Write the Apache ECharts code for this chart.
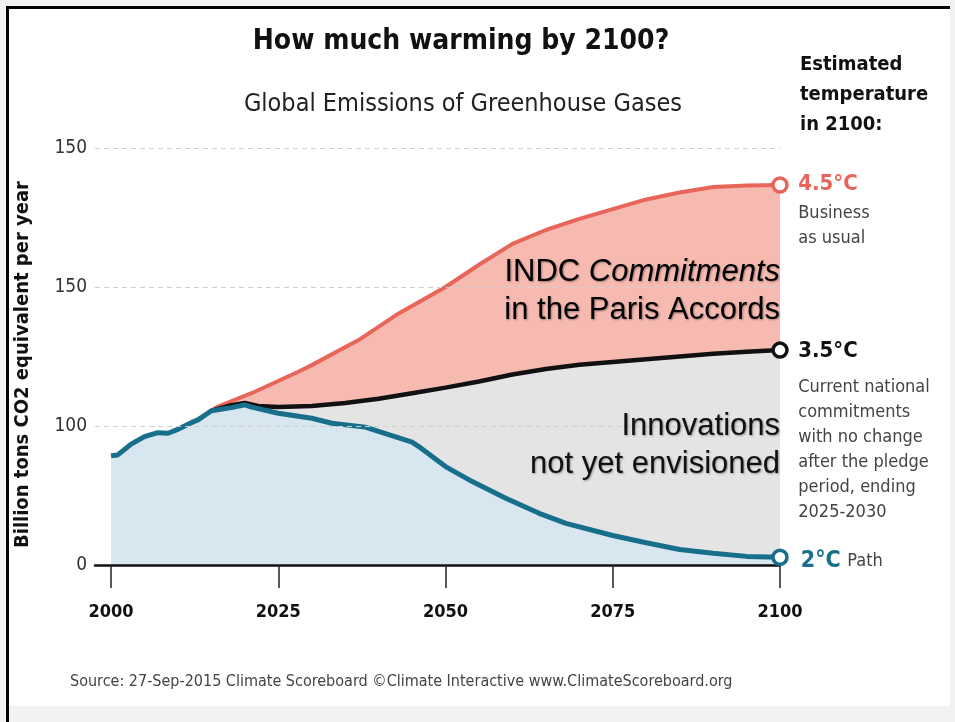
<!DOCTYPE html>
<html>
<head>
<meta charset="utf-8">
<title>How much warming by 2100?</title>
<script src="https://cdn.jsdelivr.net/npm/echarts@6/dist/echarts.min.js"></script>
<style>
  body { margin: 0; background: #f2f2f2; }
  #paper { position: absolute; left: 6px; top: 6px; width: 941px; height: 697px; background: #fff;
           border-top: 3px solid #000; border-left: 3px solid #000; }
  #edge { position: absolute; left: 6px; top: 6px; width: 3px; height: 716px; background: #000; }
  #canva { position: absolute; left: 0; top: 0; width: 955px; height: 722px; }
</style>
</head>
<body>
<div id="paper"></div>
<div id="edge"></div>
<div id="canva"></div>
<script>
// ========== Data read off the graphic ==========
// 2°C path (blue) - [year, Gt CO2e]
const bluePath = [
  [2000, 39.3], [2001, 39.6], [2003, 43.5], [2005, 46.2], [2007, 47.6], [2008.5, 47.4],
  [2010, 48.8], [2012, 51.2], [2013, 52.2], [2015, 55.5], [2018, 56.6], [2020, 57.6],
  [2021, 56.8], [2025, 54.6], [2030, 52.8], [2033, 51.0], [2038, 49.6], [2045, 44.2],
  [2046, 42.6], [2050, 35.4], [2054, 30.0], [2059, 24.0], [2064, 18.6], [2068, 15.0],
  [2075, 10.6], [2080, 8.0], [2085, 5.6], [2090, 4.2], [2095, 3.1], [2100, 2.8]
];
// current national commitments (black)
const currentPath = [
  [2015, 55.5], [2018, 57.5], [2020, 58.3], [2022, 57.2], [2025, 56.8], [2030, 57.2],
  [2035, 58.3], [2040, 59.8], [2045, 61.8], [2050, 63.8], [2055, 66.0], [2060, 68.5],
  [2065, 70.5], [2070, 72.0], [2075, 73.0], [2080, 74.0], [2085, 75.0], [2090, 76.0],
  [2095, 76.7], [2100, 77.3]
];
// business as usual (red)
const bauPath = [
  [2015, 55.5], [2016, 57.0], [2021, 61.8], [2028, 69.5], [2030, 71.9], [2037, 80.9],
  [2043, 90.5], [2050, 100.0], [2055, 108.0], [2060, 115.5], [2065, 120.5], [2070, 124.5],
  [2075, 128.0], [2080, 131.5], [2085, 134.0], [2090, 136.0], [2095, 136.5], [2100, 136.7]
];
const xTicks = [2000, 2025, 2050, 2075, 2100];
// tick labels exactly as printed on the original graphic
const yTickLabels = ['0', '100', '150', '150'];

const COND = "'Liberation Sans Narrow', 'DejaVu Sans Condensed', 'Roboto', sans-serif";
const ARIAL = "'Liberation Sans', Arial, sans-serif";
const RED = '#e8655a', BLACK = '#111111', BLUE = '#176f8c';

const last = arr => arr[arr.length - 1];
// soft shadow used by the two big annotations
const shadow = { textShadowColor: 'rgba(0,0,0,0.35)', textShadowBlur: 2, textShadowOffsetX: 1, textShadowOffsetY: 1 };

var myChart = echarts.init(document.getElementById('canva'));
var option = {
  animation: false,
  backgroundColor: 'transparent',
  title: [
    { text: 'How much warming by 2100?', left: 461, top: 28, textAlign: 'center', padding: 0,
      textStyle: { fontFamily: COND, fontSize: 28, fontWeight: 'bold', color: '#111' } },
    { text: 'Global Emissions of Greenhouse Gases', left: 463, top: 92, textAlign: 'center', padding: 0,
      textStyle: { fontFamily: COND, fontSize: 25, fontWeight: 'normal', color: '#222' } },
    { text: 'Estimated\ntemperature\nin 2100:', left: 800, top: 50, padding: 0,
      textStyle: { fontFamily: COND, fontSize: 20, fontWeight: 'bold', color: '#111', lineHeight: 30 } },
    { text: 'Source: 27-Sep-2015 Climate Scoreboard \u00A9Climate Interactive www.ClimateScoreboard.org',
      left: 70, top: 674, padding: 0,
      textStyle: { fontFamily: COND, fontSize: 16, fontWeight: 'normal', color: '#444' } }
  ],
  grid: { left: 95, right: 175, top: 148, bottom: 157 },
  xAxis: {
    type: 'value', min: 1997.6, max: 2100, z: 6,
    splitLine: { show: false },
    axisLine: { lineStyle: { color: '#111', width: 2.5 } },
    axisTick: { show: true, customValues: xTicks, length: 23, lineStyle: { color: '#222', width: 1.5 } },
    axisLabel: { customValues: xTicks, margin: 38, fontFamily: COND, fontSize: 18,
                 fontWeight: 'bold', color: '#111', formatter: v => String(v) }
  },
  yAxis: {
    type: 'value', min: 0, max: 150, interval: 50, z: 5,
    name: 'Billion tons CO2 equivalent per year',
    nameLocation: 'middle', nameGap: 62,
    nameTextStyle: { fontFamily: COND, fontSize: 20, fontWeight: 'bold', color: '#111', padding: [0, 16, 0, 0] },
    axisLine: { show: false },
    axisTick: { show: false },
    axisLabel: { margin: 8, fontFamily: COND, fontSize: 19, color: '#333',
                 formatter: v => yTickLabels[Math.round(v / 50)] },
    splitLine: { lineStyle: { color: '#cfcfcf', type: [5, 4], width: 1 } }
  },
  series: [
    { name: 'Business as usual', type: 'line', data: bauPath, showSymbol: false, z: 2,
      lineStyle: { color: RED, width: 4 }, areaStyle: { color: '#f6bab1', opacity: 1 } },
    { name: 'Current commitments', type: 'line', data: currentPath, showSymbol: false, z: 3,
      lineStyle: { color: BLACK, width: 4.5 }, areaStyle: { color: '#e4e4e4', opacity: 1 } },
    { name: '2°C path', type: 'line', data: bluePath, showSymbol: false, z: 4,
      lineStyle: { color: BLUE, width: 5 }, areaStyle: { color: '#d8e6f0', opacity: 1 } },
    // end markers with the temperature notes
    { type: 'scatter', z: 7, symbol: 'circle', symbolSize: 14,
      itemStyle: { opacity: 1 },
      data: [
        { value: last(bauPath), itemStyle: { color: '#fff', borderColor: RED, borderWidth: 3.5, opacity: 1 },
          label: { show: true, position: [27, -9],
                   formatter: '{t|4.5°C}\n{d|Business}\n{d|as usual}',
                   rich: { t: { fontFamily: COND, fontSize: 22, fontWeight: 'bold', color: RED, lineHeight: 34 },
                           d: { fontFamily: COND, fontSize: 18, color: '#444', lineHeight: 25 } } } },
        { value: last(currentPath), itemStyle: { color: '#fff', borderColor: BLACK, borderWidth: 3.5, opacity: 1 },
          label: { show: true, position: [27, -13],
                   formatter: '{t|3.5°C}\n{d|Current national}\n{d|commitments}\n{d|with no change}\n{d|after the pledge}\n{d|period, ending}\n{d|2025-2030}',
                   rich: { t: { fontFamily: COND, fontSize: 22, fontWeight: 'bold', color: BLACK, lineHeight: 46 },
                           d: { fontFamily: COND, fontSize: 18, color: '#444', lineHeight: 25 } } } },
        { value: last(bluePath), itemStyle: { color: '#fff', borderColor: BLUE, borderWidth: 3.5, opacity: 1 },
          label: { show: true, position: 'right', distance: 12, offset: [0, 4],
                   formatter: '{t|2°C}  {d|Path}',
                   rich: { t: { fontFamily: COND, fontSize: 23, fontWeight: 'bold', color: BLUE },
                           d: { fontFamily: COND, fontSize: 18, color: '#444' } } } }
      ] }
  ],
  graphic: [
    { type: 'text', z: 10, x: 780, y: 253,
      style: { text: '{n|INDC }{i|Commitments}\n{n|in the Paris Accords}', align: 'right',
               rich: { n: Object.assign({ fontFamily: ARIAL, fontSize: 31, color: '#111', lineHeight: 38 }, shadow),
                       i: Object.assign({ fontFamily: ARIAL, fontSize: 31, fontStyle: 'italic', color: '#111', lineHeight: 38 }, shadow) } } },
    { type: 'text', z: 10, x: 780, y: 407,
      style: Object.assign({ text: 'Innovations\nnot yet envisioned', align: 'right',
               fontFamily: ARIAL, fontSize: 31, fill: '#111', lineHeight: 38 }, shadow) }
  ]
};
myChart.setOption(option);
</script>
</body>
</html>
